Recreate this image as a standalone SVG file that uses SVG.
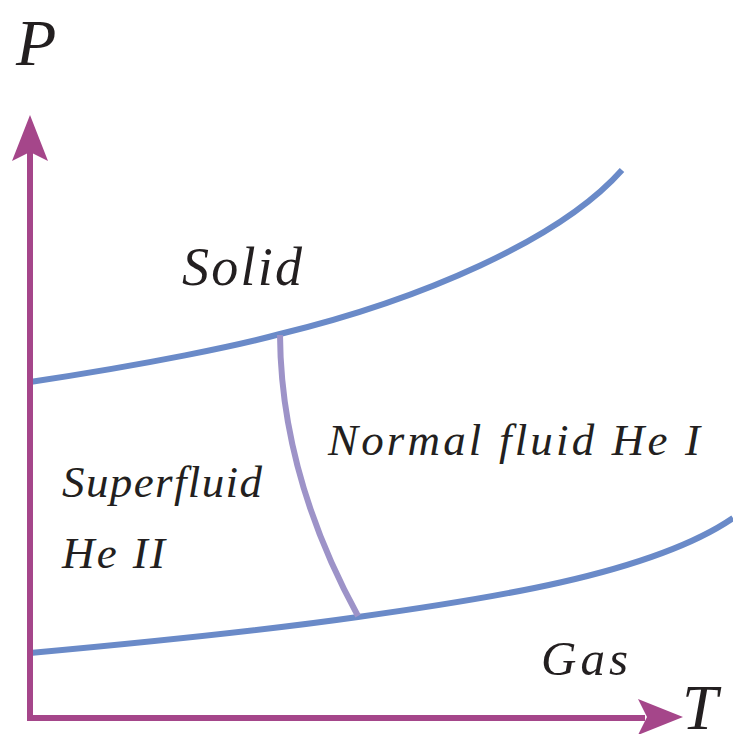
<svg xmlns="http://www.w3.org/2000/svg" width="733" height="734" viewBox="0 0 733 734">
<style>
.ax{stroke:#A5468A;stroke-width:6;fill:none}
.ah{fill:#A5468A}
.cv{stroke:#6A8AC8;stroke-width:6;fill:none}
.lam{stroke:#9D93C8;stroke-width:6;fill:none}
text{font-family:"Liberation Serif","Times New Roman",serif;font-style:italic;fill:#231F20}
</style>
<rect width="733" height="734" fill="#fff"/>
<g id="connectors">
<path class="cv" d="M30,382 C150,364 240,345 280,334 C420,300 560,240 622,170"/>
<path class="cv" d="M30,653 C150,642 260,631 358,617 C480,600 650,575 733,518"/>
<path class="lam" d="M280,335 Q281,475 358,616"/>
<path class="ax" d="M30,150 V718 H645"/>
<path class="ah" d="M30,115 L48,161 L30,152 L12,161 Z"/>
<path class="ah" d="M683,717 L638,735 L647,717 L638,699 Z"/>
</g>
<g id="axis-P"><text x="16" y="65" font-size="66">P</text></g>
<g id="axis-T"><text x="682" y="729" font-size="64">T</text></g>
<g id="solid"><text x="182" y="285" font-size="54" textLength="120">Solid</text></g>
<g id="normal"><text x="328" y="455" font-size="45" textLength="372">Normal fluid He I</text></g>
<g id="superfluid"><text x="62" y="497" font-size="45" textLength="200">Superfluid</text><text x="62" y="568" font-size="45" textLength="103">He II</text></g>
<g id="gas"><text x="541" y="675" font-size="49" textLength="87">Gas</text></g>
</svg>
